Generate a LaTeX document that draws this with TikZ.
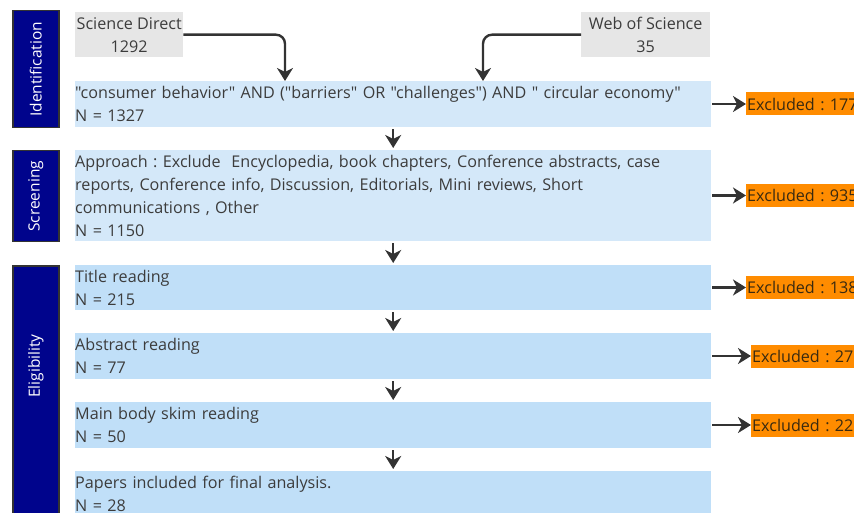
\documentclass[tikz,border=0pt]{standalone}
\usepackage{fontspec}
\setmainfont{Open Sans}[Ligatures=TeXOff]
\usetikzlibrary{arrows.meta}
\definecolor{navy}{HTML}{00048C}
\definecolor{srcgray}{HTML}{E6E6E6}
\definecolor{blueA}{HTML}{D4E8F9}
\definecolor{blueB}{HTML}{C0DFF8}
\definecolor{excl}{HTML}{FF8C00}
\definecolor{txt}{HTML}{3C3C3C}
\definecolor{excltxt}{HTML}{3A2A10}
\definecolor{arr}{HTML}{333333}
\tikzset{
  phase/.style={draw=arr, line width=1.5pt, fill=navy, anchor=north west, minimum width=46pt, inner sep=0pt},
  phasetext/.style={text=white, font=\fontsize{15.5}{17}\selectfont, rotate=90},
  stagebox/.style={anchor=north west, minimum width=636pt, text width=636pt, inner xsep=0pt, inner ysep=0pt, align=left, text=txt, font=\fontsize{16.15}{23}\selectfont},
  srcbox/.style={anchor=north west, fill=srcgray, inner sep=0pt, align=center, text=txt, font=\fontsize{16.15}{23}\selectfont, minimum height=45pt},
  exclbox/.style={anchor=west, fill=excl, minimum height=23pt, minimum width=130pt, inner xsep=1pt, inner ysep=0pt, text=excltxt, font=\fontsize{16.15}{23}\selectfont, align=left, text width=128pt},
  flow/.style={draw=arr, line width=2.4pt, -{Stealth[length=13pt,width=16pt,inset=4pt]}},
}
\frenchspacing
\begin{document}
\begin{tikzpicture}[x=1pt,y=-1pt]
\useasboundingbox (0,0) rectangle (854,513);
\clip (0,0) rectangle (854,513);
% phase bars
\node[phase, minimum height=117pt] (pid) at (12,10) {};
\node[phasetext] at (pid.center) {Identification};
\node[phase, minimum height=91pt] (psc) at (12,150) {};
\node[phasetext] at (psc.center) {Screening};
\node[phase, minimum height=260pt] (pel) at (12,265) {};
\node[phasetext] at ([yshift=-101pt]pel.north) {Eligibility};
% sources
\node[srcbox, minimum width=108pt] (sd) at (75,12) {Science Direct\\1292};
\node[srcbox, minimum width=129pt] (wos) at (581,12) {Web of Science\\35};
% stages
\node[stagebox, fill=blueA, minimum height=46pt] (s1) at (75,81) {"consumer behavior" AND ("barriers" OR "challenges") AND " circular economy"\\N = 1327};
\node[stagebox, fill=blueA, minimum height=91pt] (s2) at (75,150) {Approach : Exclude~ Encyclopedia, book chapters, Conference abstracts, case\\reports, Conference info, Discussion, Editorials, Mini reviews, Short\\communications , Other\\N = 1150};
\node[stagebox, fill=blueB, minimum height=45pt] (s3) at (75,265) {Title reading\\N = 215};
\node[stagebox, fill=blueB, minimum height=46pt] (s4) at (75,333) {Abstract reading\\N = 77};
\node[stagebox, fill=blueB, minimum height=46pt] (s5) at (75,402) {Main body skim reading\\N = 50};
\node[stagebox, fill=blueB, minimum height=46pt] (s6) at (75,471) {Papers included for final analysis.\\N = 28};
% exclusions
\node[exclbox] (e1) at (746,104) {Excluded : 177};
\node[exclbox] (e2) at (746,195.5) {Excluded : 935};
\node[exclbox] (e3) at (746,287.5) {Excluded : 138};
\node[exclbox] (e4) at (751,356) {Excluded : 27};
\node[exclbox] (e5) at (751,425) {Excluded : 22};
% connectors
\coordinate (q1) at (285,81);
\coordinate (q2) at (483,81);
\draw[flow, rounded corners=9pt] (sd.east) -| (q1);
\draw[flow, rounded corners=9pt] (wos.west) -| (q2);
\foreach \a/\b in {s1/s2,s2/s3,s3/s4,s4/s5,s5/s6}
  \draw[flow, shorten <=2pt, shorten >=2pt] (\a.south) -- (\b.north);
\foreach \a/\b in {s1/e1,s2/e2,s3/e3,s4/e4,s5/e5}
  \draw[flow, shorten <=1pt] (\a.east |- \b.west) -- (\b.west);
\end{tikzpicture}
\end{document}
